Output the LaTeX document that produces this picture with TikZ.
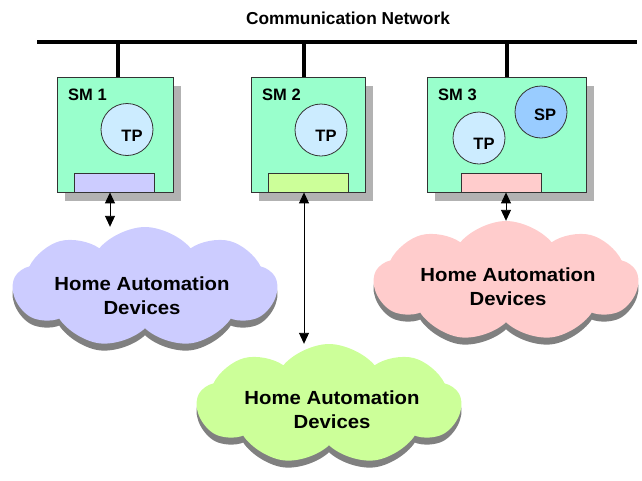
\documentclass[tikz,border=0pt]{standalone}
\usepackage{fontspec}
\setmainfont{Liberation Sans}
\usetikzlibrary{shapes.symbols,shadows,arrows.meta}
\definecolor{mint}{HTML}{99FFCC}
\definecolor{tpblue}{HTML}{CCECFF}
\definecolor{spblue}{HTML}{99CCFF}
\definecolor{lav}{HTML}{CCCCFF}
\definecolor{lgreen}{HTML}{CCFF99}
\definecolor{lpink}{HTML}{FFCCCC}
\definecolor{boxshadow}{HTML}{B2B2B2}
\definecolor{cloudshadow}{HTML}{808080}
\definecolor{edge}{HTML}{333333}
\tikzset{
  smbox/.style={rectangle,draw=edge,line width=0.8pt,fill=mint,minimum height=115pt,inner sep=0pt,
    drop shadow={shadow xshift=8pt,shadow yshift=-9pt,fill=boxshadow,opacity=1}},
  smlabel/.style={anchor=west,font=\fontsize{16.5}{18}\selectfont\bfseries,inner sep=0pt},
  proc/.style={circle,draw=edge,line width=0.8pt,minimum size=52pt,inner sep=0pt},
  port/.style={rectangle,draw=edge,line width=0.8pt,minimum width=80pt,minimum height=19pt,inner sep=0pt},
  cloudnode/.style={cloud,cloud puffs=9,cloud puff arc=100,aspect=2.2,minimum width=264pt,minimum height=120pt,
    inner sep=0pt,
    drop shadow={shadow xshift=0pt,shadow yshift=-7pt,fill=cloudshadow,opacity=1}},
  cloudtext/.style={align=center,font=\fontsize{19}{24}\selectfont\bfseries\addfontfeature{FakeStretch=1.07}},
  bus/.style={line width=4pt},
  link/.style={line width=0.9pt,{Triangle[length=11pt,width=10pt]}-{Triangle[length=11pt,width=10pt]}}
}
\begin{document}
\begin{tikzpicture}[x=1pt,y=-1pt]
\useasboundingbox (0,0) rectangle (642,480);
% title and bus
\node[font=\fontsize{17.3}{20}\selectfont\bfseries] (title) at (348,18) {Communication Network};
\coordinate (busL) at (37,42);
\coordinate (busR) at (637,42);
\draw[bus] (busL) -- (busR);
% clouds
\node[cloudnode,fill=lav,label={[cloudtext,shift={(-3pt,-9pt)}]center:Home Automation\\Devices}] (c1) at (145,287) {};
\node[cloudnode,fill=lpink,label={[cloudtext,shift={(2pt,-6pt)}]center:Home Automation\\Devices}] (c3) at (506,281) {};
\node[cloudnode,fill=lgreen,label={[cloudtext,shift={(3pt,-6pt)}]center:Home Automation\\Devices}] (c2) at (329,404) {};
% station modules
\node[smbox,minimum width=116pt] (sm1) at (115,134.5) {};
\node[smbox,minimum width=114pt] (sm2) at (308,134.5) {};
\node[smbox,minimum width=159pt] (sm3) at (506.5,134.5) {};
\draw[bus] ([xshift=3pt]sm1.north) -- ([xshift=3pt]sm1.north |- busL);
\draw[bus] ([xshift=-4pt]sm2.north) -- ([xshift=-4pt]sm2.north |- busL);
\draw[bus] (sm3.north) -- (sm3.north |- busL);
\node[smlabel] (l1) at (68,95) {SM 1};
\node[smlabel] (l2) at (262,95) {SM 2};
\node[smlabel] (l3) at (438,95) {SM 3};
% processors
\node[proc,fill=tpblue,label={[font=\fontsize{16.5}{18}\selectfont\bfseries,shift={(5pt,-6pt)}]center:TP}] (tp1) at (127,129.5) {};
\node[proc,fill=tpblue,label={[font=\fontsize{16.5}{18}\selectfont\bfseries,shift={(5pt,-6pt)}]center:TP}] (tp2) at (321,130) {};
\node[proc,fill=tpblue,label={[font=\fontsize{16.5}{18}\selectfont\bfseries,shift={(5pt,-6pt)}]center:TP}] (tp3) at (479,138) {};
\node[proc,fill=spblue,label={[font=\fontsize{16.5}{18}\selectfont\bfseries,shift={(4pt,-3pt)}]center:SP}] (sp3) at (541,112) {};
% ports
\node[port,fill=lav] (p1) at (114,182.5) {};
\node[port,fill=lgreen] (p2) at (308,182.5) {};
\node[port,fill=lpink] (p3) at (501.5,182.5) {};
% links
\draw[link] ([xshift=-4pt]p1.south) -- ([xshift=-4pt]p1.south |- c1.north);
\draw[link] ([xshift=-4pt]p2.south) -- ([xshift=-4pt]p2.south |- c2.north);
\draw[link] ([xshift=4.5pt]p3.south) -- ([xshift=4.5pt]p3.south |- c3.north);
\end{tikzpicture}
\end{document}
